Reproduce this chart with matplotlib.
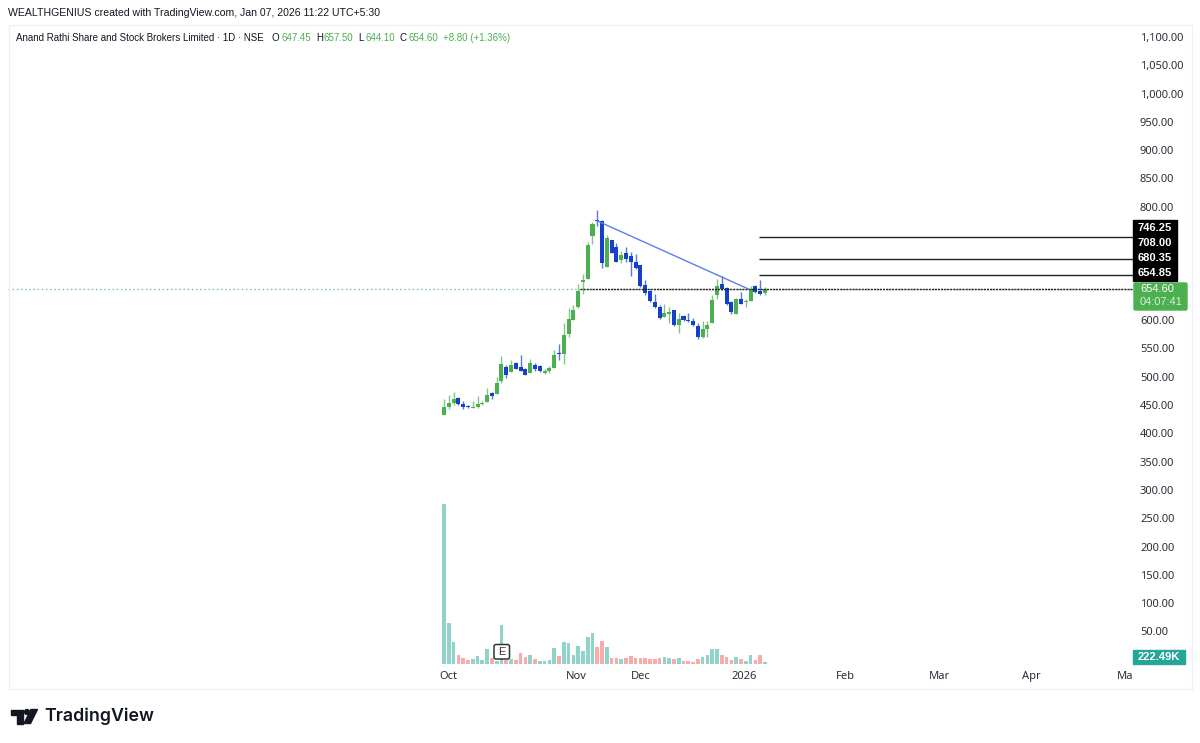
import matplotlib
matplotlib.use("Agg")
import matplotlib.pyplot as plt
from matplotlib.patches import FancyBboxPatch, Polygon, Rectangle, Circle

plt.rcParams["font.family"] = ["Noto Sans", "DejaVu Sans"]

# ---------------------------------------------------------------------------
# Data
# ---------------------------------------------------------------------------

opens = [432.2, 445.8, 454.0, 462.8, 452.2, 447.5, 445.2, 445.8, 451.1, 455.8, 471.6, 469.9,
         491.6, 516.3, 508.1, 524.5, 516.3, 513.4, 506.9, 520.4, 519.3, 506.3, 509.3, 515.2,
         541.0, 539.8, 574.5, 599.2, 622.2, 666.9, 672.7, 748.6, 776.2, 775.0, 694.5, 741.5,
         728.6, 705.7, 718.6, 712.7, 702.7, 696.8, 661.6, 651.0, 631.6, 623.3, 605.1, 611.0,
         618.6, 591.6, 607.5, 599.2, 598.6, 589.8, 569.8, 584.5, 594.5, 643.9, 663.3, 657.4,
         631.6, 611.0, 637.5, 632.2, 633.9, 660.4, 651.6, 647.45]
highs = [459.9, 467.5, 472.2, 464.6, 456.3, 450.5, 456.9, 466.3, 456.3, 479.3, 473.4, 498.7,
         536.3, 520.4, 528.7, 525.1, 538.1, 514.6, 530.4, 523.4, 521.0, 513.4, 519.3, 546.3,
         556.9, 594.0, 620.4, 625.7, 664.5, 681.6, 738.0, 773.9, 795.0, 776.2, 750.3, 742.1,
         736.2, 722.1, 729.2, 720.4, 717.4, 698.0, 670.4, 653.9, 646.3, 626.3, 628.0, 622.2,
         618.6, 612.8, 608.6, 611.6, 602.8, 594.0, 598.6, 598.6, 643.9, 673.3, 677.4, 658.6,
         632.8, 639.2, 649.2, 637.5, 659.8, 661.6, 670.4, 657.5]
lows = [432.2, 442.2, 449.9, 450.5, 442.8, 444.6, 444.6, 445.2, 450.5, 454.6, 461.0, 469.3,
        488.7, 498.1, 507.5, 512.8, 509.9, 502.2, 506.3, 510.4, 508.7, 505.2, 506.9, 514.6,
        529.3, 522.8, 570.4, 599.2, 621.6, 645.7, 672.1, 733.9, 765.6, 691.5, 693.9, 718.6,
        702.1, 701.0, 702.7, 677.4, 691.0, 658.6, 644.5, 632.2, 620.4, 601.6, 604.5, 594.0,
        589.2, 577.5, 598.6, 595.7, 589.8, 566.3, 568.7, 570.4, 594.0, 636.9, 653.9, 625.7,
        610.4, 609.8, 628.0, 622.2, 633.3, 648.0, 644.0, 644.1]
closes = [446.4, 454.0, 461.0, 451.1, 446.9, 445.8, 446.4, 451.1, 454.0, 466.9, 465.8, 488.7,
          522.2, 503.4, 519.9, 513.4, 510.4, 502.8, 523.4, 512.8, 509.3, 510.4, 514.6, 538.1,
          539.8, 574.0, 601.0, 616.9, 651.6, 670.4, 733.3, 769.2, 774.5, 700.4, 744.5, 719.2,
          702.7, 715.7, 707.4, 702.1, 692.1, 660.4, 648.0, 633.3, 623.3, 603.9, 611.6, 614.5,
          591.0, 601.6, 599.8, 598.0, 591.6, 569.2, 583.9, 591.0, 635.1, 660.4, 654.5, 629.2,
          613.9, 637.5, 629.2, 633.9, 655.1, 649.2, 645.7, 654.6]

# volume in thousands
volumes = [17760, 4551, 2475, 999, 666, 444, 522, 888, 444, 1632, 666, 333,
           4362, 389, 588, 444, 1188, 810, 999, 588, 366, 333, 477, 1776,
           921, 2475, 2364, 999, 1998, 1476, 3030, 3441, 1920, 2586, 1920, 666,
           633, 522, 666, 888, 666, 703, 703, 592, 522, 703, 814, 703,
           522, 703, 370, 370, 259, 522, 814, 999, 1665, 1702, 962, 814,
           481, 814, 555, 333, 999, 481, 999, 222.49]
volume_up = [1, 1, 1, 0, 0, 0, 1, 1, 1, 1, 0, 1,
             1, 0, 1, 0, 0, 0, 1, 0, 1, 1, 1, 1,
             0, 1, 1, 1, 1, 1, 1, 1, 0, 0, 1, 0,
             0, 1, 0, 0, 0, 0, 0, 0, 0, 0, 1, 1,
             0, 1, 0, 0, 0, 0, 1, 1, 1, 1, 0, 0,
             0, 1, 0, 1, 1, 0, 0, 1]

price_ticks = [1100, 1050, 1000, 950, 900, 850, 800, 600, 550, 500, 450, 400,
               350, 300, 250, 200, 150, 100, 50]
month_pos = [1, 27.6, 41, 62.6, 83.7, 103.5, 122.7, 142.2]
month_labels = ["Oct", "Nov", "Dec", "2026", "Feb", "Mar", "Apr", "Ma"]

target_levels = [746.25, 708.00, 680.35]
breakout_level = 654.85
last_close = 654.60
trend_x = [32, 63.6]
trend_y = [775.0, 654.6]

GREEN = "#4CAF50"
BLUE = "#1540C8"
TEAL = "#26A69A"
INK = "#131722"
AXIS_INK = "#2A2E39"
HEAD_FONT = "Liberation Sans"

# ---------------------------------------------------------------------------
# Layout - plot area in pixels of the 1200x743 picture
# ---------------------------------------------------------------------------

W, H = 1200, 743
left, right, top, bottom = 8, 1133, 25, 664
bar0_px, bar_step = 444, 4.79

fig = plt.figure(figsize=(W / 100, H / 100), dpi=100, facecolor="white")
rect = [left / W, (H - bottom) / H, (right - left) / W, (bottom - top) / H]

xlim = ((left - bar0_px) / bar_step, (right - bar0_px) / bar_step)

# Volume goes first so the price panel sits on top of it
ax_vol = fig.add_axes(rect)
ax_vol.set_xlim(xlim)
ax_vol.set_ylim(0, 70929)
ax_vol.axis("off")

idx = list(range(len(closes)))
ax_vol.bar(idx, volumes, width=0.76,
           color=["#8FD3CB" if u else "#F8ABA9" for u in volume_up])

ax = fig.add_axes(rect)
ax.patch.set_alpha(0)
ax.set_xlim(xlim)
ax.set_ylim(-7.4, 1121)
for side in ax.spines.values():
    side.set_visible(False)

# ---------------------------------------------------------------------------
# Candles
# ---------------------------------------------------------------------------

colors = [GREEN if c >= o else BLUE for o, c in zip(opens, closes)]
ax.vlines(idx, lows, highs, colors=colors, linewidth=1, alpha=0.7, zorder=3)
ax.bar(idx, [max(abs(c - o), 1.5) for o, c in zip(opens, closes)],
       bottom=[min(o, c) for o, c in zip(opens, closes)],
       width=0.84, color=colors, zorder=4)

# ---------------------------------------------------------------------------
# Drawings
# ---------------------------------------------------------------------------

ax.axhline(last_close, color="#7CC480", linewidth=1, linestyle=(0, (1, 2)), zorder=2)
ax.hlines(breakout_level, 28.4, xlim[1], color="#222222", linewidth=1, zorder=5,
          linestyle=(0, (1.5, 0.7)))
ax.hlines(breakout_level + 25.5, 65.8, xlim[1], color="#222222", linewidth=1)
ax.hlines(target_levels[1], 65.8, xlim[1], color="#222222", linewidth=1)
ax.hlines(target_levels[0], 65.8, xlim[1], color="#222222", linewidth=1)
ax.plot(trend_x, trend_y, color="#5B7FE6", linewidth=1, zorder=5)

ax.set_xticks(month_pos)
ax.set_xticklabels(month_labels, fontsize=8, color=AXIS_INK)
ax.get_xticklabels()[3].set_fontweight("bold")
ax.tick_params(axis="x", length=0, pad=5)
ax.yaxis.tick_right()
ax.set_yticks(price_ticks)
ax.set_yticklabels([f"{p:,.2f}" for p in price_ticks], fontsize=8, color=AXIS_INK)
ax.tick_params(axis="y", length=0, pad=5)

# ---------------------------------------------------------------------------
# Overlay in picture pixels - frame, header, price tags, logo
# ---------------------------------------------------------------------------

ov = fig.add_axes([0, 0, 1, 1], zorder=10)
ov.patch.set_alpha(0)
ov.set_xlim(0, W)
ov.set_ylim(H, 0)
ov.axis("off")

ov.add_patch(Rectangle((8.5, 24.5), 1183, 664, fill=False, edgecolor="#EEF0F5", linewidth=1))

ov.text(8, 13, "WEALTHGENIUS created with TradingView.com, Jan 07, 2026 11:22 UTC+5:30",
        family=HEAD_FONT, fontsize=7.6, color=INK, va="center")
ov.text(16, 38, "Anand Rathi Share and Stock Brokers Limited · 1D · NSE",
        family=HEAD_FONT, fontsize=7.0, color=INK, va="center")
for x, label, value, gap in [(272, "O", "647.45", 9), (316, "H", "657.50", 8),
                             (358.5, "L", "644.10", 6.5), (400, "C", "654.60", 8.5)]:
    ov.text(x, 38, label, family=HEAD_FONT, fontsize=7.0, color=INK, va="center")
    ov.text(x + gap, 38, value, family=HEAD_FONT, fontsize=7.0, color=GREEN, va="center")
ov.text(443, 38, "+8.80 (+1.36%)", family=HEAD_FONT, fontsize=7.0, color=GREEN, va="center")

# black tags for the horizontal levels
ov.add_patch(Rectangle((1133, 220), 44, 61, color="black", zorder=2))
for y, label in [(228, "746.25"), (243, "708.00"), (258, "680.35"), (273.5, "654.85")]:
    ov.text(1155, y, label, family=HEAD_FONT, fontsize=8, fontweight="bold", color="white",
            ha="center", va="center", zorder=3)

ov.add_patch(FancyBboxPatch((1134, 283), 53, 27, boxstyle="round,pad=0,rounding_size=1.5",
                            color=GREEN, zorder=2))
ov.text(1140, 289, "654.60", family=HEAD_FONT, fontsize=8, color="white", va="center", zorder=3)
ov.text(1140, 302, "04:07:41", family=HEAD_FONT, fontsize=8, color="#D6F0D8", va="center", zorder=3)

ov.add_patch(Rectangle((1133, 650), 52, 13.5, color=TEAL, zorder=2))
ov.text(1159, 656.8, "222.49K", family=HEAD_FONT, fontsize=8, fontweight="bold", color="white",
        ha="center", va="center", zorder=3)

# earnings marker
ov.add_patch(FancyBboxPatch((494, 644.5), 15.5, 14.5, boxstyle="round,pad=0,rounding_size=2",
                            facecolor="white", edgecolor="#333333", linewidth=1.1, zorder=4))
ov.text(501.8, 651.8, "E", family=HEAD_FONT, fontsize=8, color="#333333", ha="center", va="center", zorder=5)

# logo
ov.add_patch(Polygon([(11, 709.5), (22.7, 709.5), (22.7, 723.5), (16.7, 723.5),
                      (16.7, 715), (11, 715)], color=INK))
ov.add_patch(Circle((27, 712), 2.5, color=INK))
ov.add_patch(Polygon([(31, 709.5), (37.5, 709.5), (30.5, 723.5), (24, 723.5)], color=INK))
ov.text(44, 716.5, "TradingView", family="Inter", fontsize=12.8, fontweight="semibold",
        color=INK, va="center")

fig.savefig("out.png", dpi=100)
